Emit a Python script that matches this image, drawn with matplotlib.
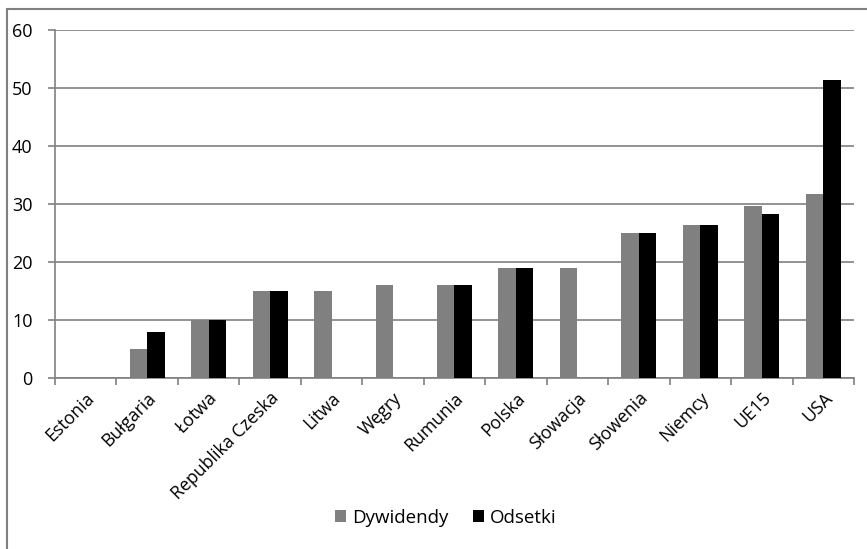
import numpy as np
import matplotlib
matplotlib.use("Agg")
import matplotlib.pyplot as plt
from matplotlib.patches import Rectangle

# === DATA ===
countries = ["Estonia", "Bułgaria", "Łotwa", "Republika Czeska", "Litwa", "Węgry",
             "Rumunia", "Polska", "Słowacja", "Słowenia", "Niemcy", "UE15", "USA"]
dywidendy = [0, 5, 10, 15, 15, 16, 16, 19, 19, 25, 26.4, 29.7, 31.8]
odsetki = [0, 8, 10, 15, 0, 0, 16, 19, 0, 25, 26.4, 28.2, 51.4]

plt.rcParams['font.family'] = ['Open Sans', 'DejaVu Sans']

fig = plt.figure(figsize=(8.67, 5.49), dpi=100)
ax = fig.add_axes([0.0634, 0.3115, 0.9216, 0.634])

x = np.arange(len(countries))
w = 0.285
ax.bar(x - w / 2, dywidendy, w, color='#808080', label='Dywidendy', zorder=3)
ax.bar(x + w / 2, odsetki, w, color='black', label='Odsetki', zorder=3)

ax.set_xlim(-0.5, len(countries) - 0.5)
ax.set_ylim(0, 60)
ax.set_yticks(range(0, 61, 10))
ax.yaxis.grid(True, color='#808080', linewidth=1.2, zorder=0)

ax.set_xticks(x)
ax.set_xticklabels(countries, rotation=45, ha='right', rotation_mode='anchor', fontsize=12.8)
ax.tick_params(axis='x', length=0, pad=8)
ax.set_xticks(np.arange(-0.5, len(countries)), minor=True)
ax.tick_params(axis='x', which='minor', length=5, color='#808080', width=1.2)
ax.tick_params(axis='y', length=5, color='#808080', width=1.2, labelsize=13, pad=11)

for s in ['top', 'right']:
    ax.spines[s].set_visible(False)
for s in ['left', 'bottom']:
    ax.spines[s].set_color('#808080')
    ax.spines[s].set_linewidth(1.2)

fig.legend(loc='center', bbox_to_anchor=(0.514, 0.057), ncol=2, frameon=False,
           fontsize=13.5, handlelength=0.6, handleheight=0.6, handletextpad=0.3,
           columnspacing=1.3)

# outer chart border
fig.patches.append(Rectangle((7 / 867, -0.1), 1.2, 1 - 9 / 549 + 0.1,
                             transform=fig.transFigure, fill=False,
                             edgecolor='#808080', linewidth=1.5))

fig.savefig("out.png", dpi=100)
